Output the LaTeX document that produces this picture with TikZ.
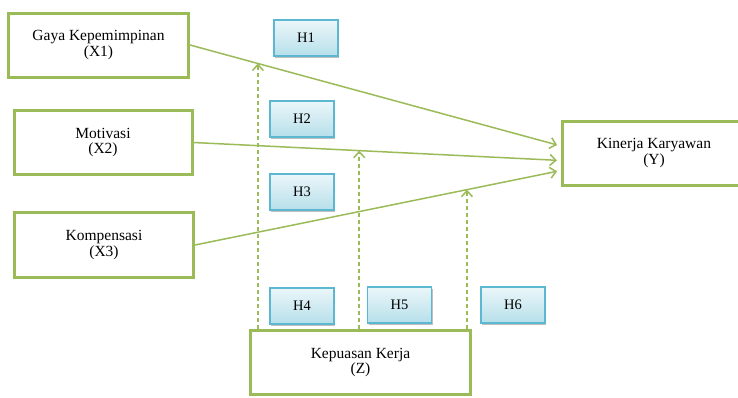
\documentclass[tikz,border=0pt]{standalone}
\usepackage{fontspec}
\setmainfont{Liberation Serif}
\usetikzlibrary{arrows.meta,shadows}
\definecolor{varcolor}{RGB}{155,187,89}
\definecolor{hypcolor}{RGB}{92,184,208}
\tikzset{
	varbox/.style = {
		draw=varcolor, line width=3pt, fill=white, align=center,
		inner sep=0pt, minimum height=64pt, font=\fontsize{15.5}{15.5}\selectfont
	},
	hypbox/.style = {
		draw=hypcolor, line width=1.2pt, top color=hypcolor!12, bottom color=hypcolor!45,
		minimum width=64pt, minimum height=36pt, inner sep=0pt,
		drop shadow={shadow xshift=1pt, shadow yshift=-1.5pt, fill=black, opacity=0.25},
		font=\fontsize{14.5}{15}\selectfont
	},
	effect/.style = {
		draw=varcolor, line width=1.5pt, shorten >=4pt,
		-{Straight Barb[length=6pt, width=11pt]}
	},
	moderate/.style = {effect, shorten >=0pt, dash pattern=on 4pt off 3pt}
}
\begin{document}
\begin{tikzpicture}[x=1pt, y=-1pt]
	\useasboundingbox (0,0) rectangle (738,397);
	% variables
	\node[varbox, minimum width=180pt] (x1) at (98.5,45) {Gaya Kepemimpinan\\(X1)};
	\node[varbox, minimum width=178pt] (x2) at (103,142.5) {Motivasi\\(X2)};
	\node[varbox, minimum width=179pt, minimum height=65pt] (x3) at (104,245) {Kompensasi\\(X3)};
	\node[varbox, minimum width=183pt] (y) at (654,153) {Kinerja Karyawan\\(Y)};
	\node[varbox, minimum width=220pt] (z) at (360.5,362.5) {Kepuasan Kerja\\(Z)};
	% hypothesis labels
	\foreach \n/\x/\y in {1/306/38, 2/302/119, 3/302/192, 4/302/306, 5/399.5/305, 6/513/305}
	{
		\node[hypbox] (h\n) at (\x,\y) {H\n};
	}
	% direct effects
	\draw[effect] (x1.east) -- coordinate[pos=0.183] (m1) ([yshift=7pt]y.west);
	\draw[effect] (x2.east) -- coordinate[pos=0.451] (m2) ([yshift=-7.5pt]y.west);
	\draw[effect] (x3.east) -- coordinate[pos=0.743] (m3) ([yshift=-17.5pt]y.west);
	% moderation by Z
	\foreach \m in {m1,m2,m3}
		\draw[moderate] (z.north -| \m) -- (\m);
\end{tikzpicture}
\end{document}
